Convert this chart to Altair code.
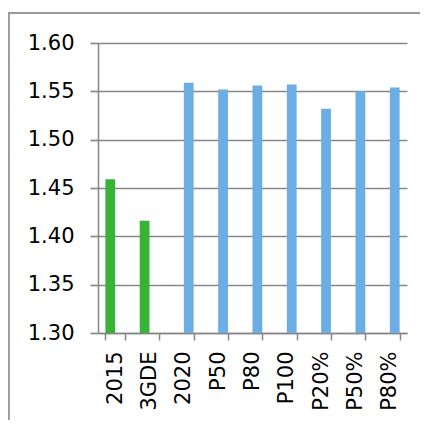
import altair as alt
import pandas as pd

categories = ["2015", "3GDE", "2020", "P50", "P80", "P100", "P20%", "P50%", "P80%"]
values = [1.459, 1.416, 1.559, 1.552, 1.556, 1.557, 1.532, 1.550, 1.554]
series = ["obs", "obs", "scen", "scen", "scen", "scen", "scen", "scen", "scen"]

df = pd.DataFrame({"cat": categories, "val": values, "ser": series})

W, H = 309, 290
PAD = {"left": 90, "top": 35, "right": 14, "bottom": 87}
FONT = "DejaVu Sans"
GRID = "#878787"
BORDER = "#9a9a9a"

bars = alt.Chart(df).mark_bar().encode(
    x=alt.X("cat:N", sort=categories, title=None,
            scale=alt.Scale(paddingInner=0.43, paddingOuter=0.215),
            axis=alt.Axis(labelAngle=-90, tickBand="extent", tickSize=7,
                          tickColor=GRID, domainColor=GRID, domainWidth=1.7,
                          tickWidth=1.5, labelPadding=11, labelFontSize=21,
                          labelFont=FONT, labelColor="#000000", grid=False,
                          labelBaseline="middle")),
    xOffset=alt.XOffset("ser:N", scale=alt.Scale(domain=["obs", "scen"], paddingInner=0, paddingOuter=0)),
    y=alt.Y("val:Q", title=None,
            scale=alt.Scale(domain=[1.30, 1.60], zero=False, nice=False),
            axis=alt.Axis(values=[1.30, 1.35, 1.40, 1.45, 1.50, 1.55, 1.60],
                          format=".2f", tickSize=8, tickColor=GRID, tickWidth=1.7,
                          domainColor=GRID, domainWidth=1.5,
                          gridColor=GRID, gridWidth=1.7, gridOpacity=1,
                          labelPadding=16, labelFontSize=21, labelFont=FONT,
                          labelColor="#000000")),
    y2=alt.datum(1.30),
    color=alt.Color("ser:N", scale=alt.Scale(domain=["obs", "scen"], range=["#37B337", "#6CADE4"]),
                    legend=None),
)

border_top = alt.Chart(df).mark_rule(color=BORDER, strokeWidth=1.4).encode(
    x=alt.value(-PAD["left"] + 0.5), x2=alt.value(W + PAD["right"] - 1), y=alt.value(-30)
)
border_left = alt.Chart(df).mark_rule(color=BORDER, strokeWidth=1.4).encode(
    x=alt.value(-PAD["left"] + 0.5), y=alt.value(-30), y2=alt.value(H + PAD["bottom"])
)

chart = alt.layer(bars, border_top, border_left).properties(
    width=W, height=H,
    autosize=alt.AutoSizeParams(type="none"),
    padding=PAD,
    background="#ffffff",
).configure_view(stroke=None, strokeWidth=0)

chart.save("out.html", embed_options={"renderer": "svg", "actions": False})
